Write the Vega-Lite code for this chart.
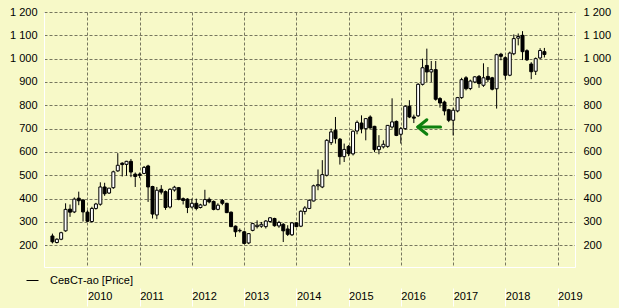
{
  "$schema": "https://vega.github.io/schema/vega-lite/v6.json",
  "width": 531,
  "height": 255,
  "autosize": {"type": "none"},
  "padding": {"left": 44, "top": 12, "right": 44, "bottom": 41},
  "background": "#F7F9C8",
  "config": {
    "view": {"stroke": null, "fill": "#F7F9C8"},
    "axis": {"labelFont": "Liberation Sans", "labelFontSize": 11, "labelColor": "#000000", "title": null}
  },
  "datasets": {
    "px": [
      {"d":"2009-05-01","o":240,"h":250,"l":208,"c":215},
      {"d":"2009-06-01","o":212,"h":230,"l":208,"c":226},
      {"d":"2009-07-01","o":226,"h":258,"l":222,"c":254},
      {"d":"2009-08-01","o":262,"h":380,"l":258,"c":354},
      {"d":"2009-09-01","o":355,"h":375,"l":322,"c":342},
      {"d":"2009-10-01","o":343,"h":405,"l":338,"c":398},
      {"d":"2009-11-01","o":402,"h":430,"l":372,"c":391},
      {"d":"2009-12-01","o":394,"h":398,"l":302,"c":343},
      {"d":"2010-01-01","o":342,"h":350,"l":300,"c":303},
      {"d":"2010-02-01","o":302,"h":365,"l":298,"c":358},
      {"d":"2010-03-01","o":358,"h":382,"l":353,"c":377},
      {"d":"2010-04-01","o":376,"h":470,"l":370,"c":450},
      {"d":"2010-05-01","o":450,"h":468,"l":412,"c":421},
      {"d":"2010-06-01","o":424,"h":446,"l":420,"c":445},
      {"d":"2010-07-01","o":447,"h":520,"l":442,"c":515},
      {"d":"2010-08-01","o":519,"h":595,"l":515,"c":543},
      {"d":"2010-09-01","o":552,"h":556,"l":495,"c":546},
      {"d":"2010-10-01","o":547,"h":562,"l":498,"c":560},
      {"d":"2010-11-01","o":560,"h":570,"l":492,"c":514},
      {"d":"2010-12-01","o":505,"h":512,"l":450,"c":495},
      {"d":"2011-01-01","o":505,"h":512,"l":488,"c":500},
      {"d":"2011-02-01","o":508,"h":540,"l":505,"c":534},
      {"d":"2011-03-01","o":540,"h":545,"l":386,"c":450},
      {"d":"2011-04-01","o":452,"h":455,"l":315,"c":334},
      {"d":"2011-05-01","o":330,"h":450,"l":312,"c":436},
      {"d":"2011-06-01","o":440,"h":458,"l":418,"c":428},
      {"d":"2011-07-01","o":430,"h":435,"l":352,"c":362},
      {"d":"2011-08-01","o":364,"h":445,"l":358,"c":440},
      {"d":"2011-09-01","o":437,"h":455,"l":430,"c":449},
      {"d":"2011-10-01","o":447,"h":450,"l":393,"c":397},
      {"d":"2011-11-01","o":400,"h":405,"l":375,"c":392},
      {"d":"2011-12-01","o":398,"h":402,"l":338,"c":362},
      {"d":"2012-01-01","o":364,"h":400,"l":358,"c":380},
      {"d":"2012-02-01","o":380,"h":400,"l":350,"c":358},
      {"d":"2012-03-01","o":362,"h":378,"l":358,"c":373},
      {"d":"2012-04-01","o":372,"h":438,"l":368,"c":396},
      {"d":"2012-05-01","o":397,"h":405,"l":380,"c":386},
      {"d":"2012-06-01","o":388,"h":392,"l":350,"c":354},
      {"d":"2012-07-01","o":354,"h":380,"l":350,"c":372},
      {"d":"2012-08-01","o":392,"h":398,"l":372,"c":380},
      {"d":"2012-09-01","o":380,"h":382,"l":338,"c":340},
      {"d":"2012-10-01","o":342,"h":345,"l":278,"c":280},
      {"d":"2012-11-01","o":282,"h":285,"l":236,"c":258},
      {"d":"2012-12-01","o":262,"h":272,"l":255,"c":264},
      {"d":"2013-01-01","o":258,"h":262,"l":205,"c":208},
      {"d":"2013-02-01","o":210,"h":252,"l":205,"c":250},
      {"d":"2013-03-01","o":264,"h":296,"l":260,"c":293},
      {"d":"2013-04-01","o":280,"h":307,"l":272,"c":286},
      {"d":"2013-05-01","o":282,"h":300,"l":275,"c":290},
      {"d":"2013-06-01","o":280,"h":308,"l":272,"c":304},
      {"d":"2013-07-01","o":302,"h":320,"l":298,"c":318},
      {"d":"2013-08-01","o":315,"h":318,"l":280,"c":284},
      {"d":"2013-09-01","o":283,"h":305,"l":275,"c":298},
      {"d":"2013-10-01","o":290,"h":295,"l":214,"c":262},
      {"d":"2013-11-01","o":270,"h":286,"l":240,"c":247},
      {"d":"2013-12-01","o":245,"h":300,"l":240,"c":296},
      {"d":"2014-01-01","o":296,"h":298,"l":278,"c":280},
      {"d":"2014-02-01","o":282,"h":350,"l":278,"c":346},
      {"d":"2014-03-01","o":345,"h":368,"l":332,"c":360},
      {"d":"2014-04-01","o":358,"h":396,"l":355,"c":393},
      {"d":"2014-05-01","o":390,"h":460,"l":388,"c":455},
      {"d":"2014-06-01","o":455,"h":525,"l":436,"c":460},
      {"d":"2014-07-01","o":450,"h":565,"l":445,"c":503},
      {"d":"2014-08-01","o":500,"h":655,"l":495,"c":650},
      {"d":"2014-09-01","o":640,"h":700,"l":630,"c":686},
      {"d":"2014-10-01","o":693,"h":750,"l":636,"c":657},
      {"d":"2014-11-01","o":655,"h":660,"l":546,"c":580},
      {"d":"2014-12-01","o":580,"h":636,"l":557,"c":611},
      {"d":"2015-01-01","o":624,"h":630,"l":582,"c":593},
      {"d":"2015-02-01","o":592,"h":692,"l":585,"c":689},
      {"d":"2015-03-01","o":690,"h":735,"l":676,"c":727},
      {"d":"2015-04-01","o":724,"h":757,"l":680,"c":700},
      {"d":"2015-05-01","o":700,"h":745,"l":650,"c":743},
      {"d":"2015-06-01","o":750,"h":757,"l":700,"c":703},
      {"d":"2015-07-01","o":710,"h":712,"l":600,"c":610},
      {"d":"2015-08-01","o":610,"h":672,"l":590,"c":624},
      {"d":"2015-09-01","o":622,"h":650,"l":615,"c":633},
      {"d":"2015-10-01","o":624,"h":715,"l":618,"c":714},
      {"d":"2015-11-01","o":707,"h":830,"l":700,"c":729},
      {"d":"2015-12-01","o":731,"h":735,"l":668,"c":671},
      {"d":"2016-01-01","o":676,"h":707,"l":636,"c":700},
      {"d":"2016-02-01","o":700,"h":800,"l":695,"c":796},
      {"d":"2016-03-01","o":796,"h":822,"l":745,"c":750},
      {"d":"2016-04-01","o":750,"h":760,"l":724,"c":745},
      {"d":"2016-05-01","o":755,"h":895,"l":750,"c":890},
      {"d":"2016-06-01","o":890,"h":1000,"l":885,"c":961},
      {"d":"2016-07-01","o":971,"h":1043,"l":900,"c":943},
      {"d":"2016-08-01","o":943,"h":990,"l":900,"c":953},
      {"d":"2016-09-01","o":953,"h":990,"l":820,"c":826},
      {"d":"2016-10-01","o":829,"h":835,"l":790,"c":810},
      {"d":"2016-11-01","o":814,"h":820,"l":757,"c":776},
      {"d":"2016-12-01","o":781,"h":785,"l":728,"c":736},
      {"d":"2017-01-01","o":736,"h":790,"l":671,"c":779},
      {"d":"2017-02-01","o":776,"h":836,"l":770,"c":833},
      {"d":"2017-03-01","o":833,"h":918,"l":828,"c":910},
      {"d":"2017-04-01","o":918,"h":925,"l":864,"c":871},
      {"d":"2017-05-01","o":872,"h":910,"l":865,"c":904},
      {"d":"2017-06-01","o":900,"h":925,"l":895,"c":922},
      {"d":"2017-07-01","o":924,"h":930,"l":875,"c":893},
      {"d":"2017-08-01","o":886,"h":980,"l":879,"c":918},
      {"d":"2017-09-01","o":924,"h":964,"l":900,"c":910},
      {"d":"2017-10-01","o":918,"h":922,"l":864,"c":869},
      {"d":"2017-11-01","o":871,"h":1021,"l":786,"c":1017},
      {"d":"2017-12-01","o":1019,"h":1025,"l":993,"c":1010},
      {"d":"2018-01-01","o":1004,"h":1010,"l":910,"c":929},
      {"d":"2018-02-01","o":929,"h":1030,"l":925,"c":1024},
      {"d":"2018-03-01","o":1021,"h":1104,"l":1015,"c":1086},
      {"d":"2018-04-01","o":1088,"h":1108,"l":1057,"c":1095},
      {"d":"2018-05-01","o":1100,"h":1118,"l":994,"c":1030},
      {"d":"2018-06-01","o":1034,"h":1040,"l":990,"c":995},
      {"d":"2018-07-01","o":977,"h":985,"l":912,"c":944},
      {"d":"2018-08-01","o":946,"h":1005,"l":930,"c":1000},
      {"d":"2018-09-01","o":1003,"h":1045,"l":998,"c":1035},
      {"d":"2018-10-01","o":1030,"h":1046,"l":1005,"c":1018}
    ],
    "arrow": [
      {"xa":"2016-05-12","xb":"2016-10-05","ya":707,"yb":707},
      {"xa":"2016-04-29","xb":"2016-07-01","ya":707,"yb":738},
      {"xa":"2016-04-29","xb":"2016-07-01","ya":707,"yb":676}
    ]
  },
  "layer": [
    {
      "data": {"name": "px"},
      "mark": {"type": "rule", "strokeWidth": 1},
      "encoding": {
        "x": {
          "field": "d", "type": "temporal",
          "scale": {"type": "utc", "domain": [{"year": 2009, "month": 4, "date": 7, "utc": true}, {"year": 2019, "month": 3, "date": 29, "utc": true}]},
          "axis": {
            "grid": true, "gridDash": [3, 2], "gridColor": "#77775F", "gridOpacity": 1,
            "labels": false, "ticks": false, "domain": true, "domainColor": "#FFFFFF",
            "values": [{"year":2010,"utc":true},{"year":2011,"utc":true},{"year":2012,"utc":true},{"year":2013,"utc":true},{"year":2014,"utc":true},{"year":2015,"utc":true},{"year":2016,"utc":true},{"year":2017,"utc":true},{"year":2018,"utc":true},{"year":2019,"utc":true}]
          }
        },
        "y": {
          "field": "l", "type": "quantitative",
          "scale": {"domain": [107, 1200], "nice": false, "zero": false},
          "axis": {
            "orient": "left", "grid": true, "gridDash": [3, 2], "gridColor": "#77775F", "gridOpacity": 1,
            "ticks": false, "tickSize": 0, "labelPadding": 7, "domainColor": "#FFFFFF",
            "values": [200, 300, 400, 500, 600, 700, 800, 900, 1000, 1100, 1200],
            "labelExpr": "replace(format(datum.value, ','), ',', ' ')"
          }
        },
        "y2": {"field": "h"},
        "color": {
          "datum": "СевСт-ао [Price]",
          "scale": {"range": ["#000000"]},
          "legend": {
            "orient": "none", "legendX": -18, "legendY": 262, "title": null,
            "symbolType": "stroke", "symbolSize": 144, "symbolStrokeWidth": 1,
            "labelFont": "Liberation Sans", "labelFontSize": 11, "labelColor": "#000000",
            "labelOffset": 11, "padding": 0
          }
        }
      }
    },
    {
      "data": {"name": "px"},
      "mark": {"type": "bar", "width": 3, "stroke": "#000000", "strokeWidth": 1},
      "encoding": {
        "x": {
          "field": "d", "type": "temporal",
          "axis": {
            "orient": "bottom", "offset": 21, "domain": false, "grid": false,
            "ticks": true, "tickSize": 18, "tickColor": "#FFFFFF",
            "labelAlign": "left", "labelDx": 5, "labelBaseline": "middle", "labelPadding": -10,
            "labelOverlap": false, "labelFlush": false, "format": "%Y",
            "values": [{"year":2010,"utc":true},{"year":2011,"utc":true},{"year":2012,"utc":true},{"year":2013,"utc":true},{"year":2014,"utc":true},{"year":2015,"utc":true},{"year":2016,"utc":true},{"year":2017,"utc":true},{"year":2018,"utc":true},{"year":2019,"utc":true}]
          }
        },
        "y": {
          "field": "o", "type": "quantitative",
          "axis": {
            "orient": "right", "grid": false, "ticks": false, "tickSize": 0, "labelPadding": 8,
            "domainColor": "#FFFFFF",
            "values": [200, 300, 400, 500, 600, 700, 800, 900, 1000, 1100, 1200],
            "labelExpr": "replace(format(datum.value, ','), ',', ' ')"
          }
        },
        "y2": {"field": "c"},
        "fill": {"condition": {"test": "datum.c < datum.o", "value": "#000000"}, "value": "#FFFFFF"}
      }
    },
    {
      "data": {"name": "arrow"},
      "mark": {"type": "rule", "color": "#0E800E", "strokeWidth": 3, "strokeCap": "round"},
      "encoding": {
        "x": {"field": "xa", "type": "temporal", "axis": null},
        "x2": {"field": "xb"},
        "y": {"field": "ya", "type": "quantitative", "axis": null},
        "y2": {"field": "yb"}
      }
    }
  ],
  "resolve": {"axis": {"x": "independent", "y": "independent"}}
}
